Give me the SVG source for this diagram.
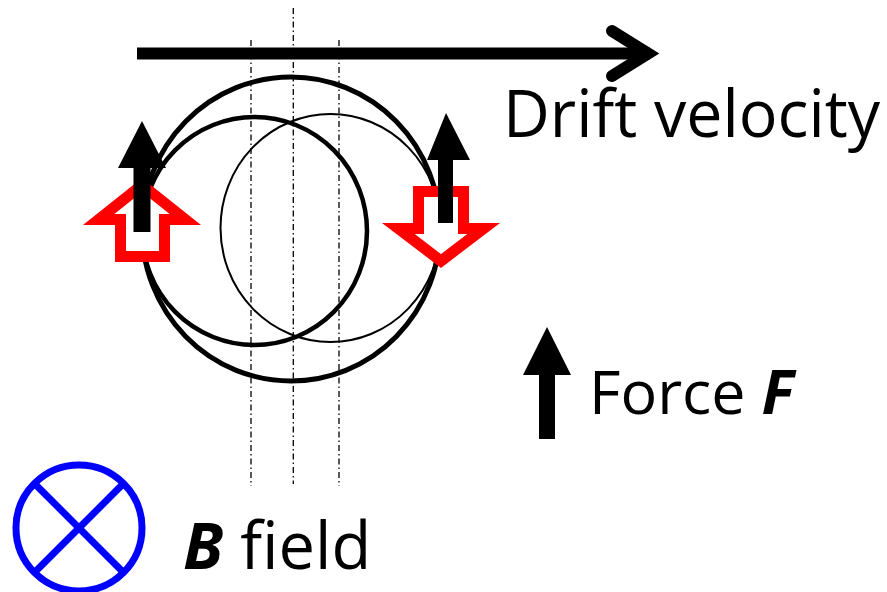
<svg xmlns="http://www.w3.org/2000/svg" width="887" height="592" viewBox="0 0 887 592">
<style>
.dash{stroke:#000;stroke-width:1.3;stroke-dasharray:6 3 1.5 3;fill:none}
.orbit{fill:none;stroke:#000}
.red{fill:#fff;stroke:#f00;stroke-width:11;stroke-linejoin:miter}
.blk{fill:#000;stroke:none}
.txt{font-family:"Open Sans","Liberation Sans",sans-serif;fill:#000}
.bi{font-weight:bold;font-style:italic}
</style>
<rect width="887" height="592" fill="#fff"/>
<g id="guides">
<line class="dash" x1="251" y1="40" x2="251" y2="486"/>
<line class="dash" x1="293.3" y1="8" x2="293.3" y2="484"/>
<line class="dash" x1="339" y1="40" x2="339" y2="486"/>
</g>
<g id="drift">
<line x1="137" y1="53.5" x2="650" y2="53.5" stroke="#000" stroke-width="12"/>
<polyline points="612,31 648,53.5 612,76" fill="none" stroke="#000" stroke-width="12" stroke-linecap="round" stroke-linejoin="miter"/>
<text class="txt" x="503" y="137" font-size="66" textLength="377" lengthAdjust="spacingAndGlyphs">Drift velocity</text>
</g>
<g id="orbits">
<ellipse class="orbit" cx="291" cy="229" rx="149" ry="152" stroke-width="5"/>
<ellipse class="orbit" cx="254.5" cy="231" rx="112.5" ry="114" stroke-width="4.5"/>
<ellipse class="orbit" cx="330.5" cy="228" rx="110" ry="114" stroke-width="2"/>
</g>
<g id="left-arrows">
<path class="red" d="M120.5,256.5 H164.5 V219.5 H185.3 L142,185 L98.7,219.5 H120.5 Z"/>
<polygon class="blk" points="142,121 166,168 150.5,168 150.5,232 133.5,232 133.5,168 118,168"/>
</g>
<g id="right-arrows">
<path class="red" d="M418.5,191.5 H463.5 V228.5 H483.7 L441,261 L398.3,228.5 H418.5 Z"/>
<polygon class="blk" points="446,113 470,160 453,160 453,223 438,223 438,160 427,160"/>
</g>
<g id="force">
<polygon class="blk" points="547,327 571,375 555,375 555,439 539,439 539,375 523,375"/>
<text class="txt" x="589" y="414" font-size="61">Force <tspan class="bi">F</tspan></text>
</g>
<g id="bfield">
<circle cx="79" cy="528" r="63" fill="none" stroke="#00f" stroke-width="7"/>
<line x1="36" y1="485" x2="122" y2="571" stroke="#00f" stroke-width="7"/>
<line x1="122" y1="485" x2="36" y2="571" stroke="#00f" stroke-width="7"/>
<text class="txt" x="183" y="569" font-size="65"><tspan class="bi">B</tspan> field</text>
</g>
</svg>
